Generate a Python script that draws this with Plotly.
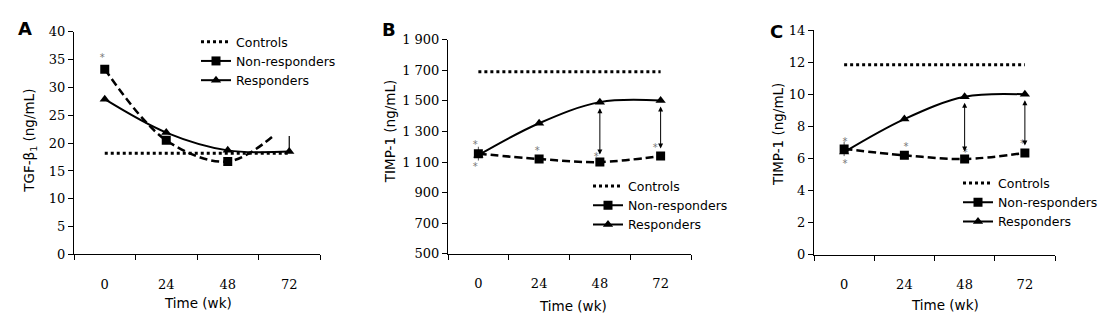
import plotly.graph_objects as go

# Time points (weeks) and the category band edges used for axis ticks
weeks = [0, 24, 48, 72]
week_labels = ["0", "24", "48", "72"]
band_edges = [-12, 12, 36, 60, 84]

# Panel A: TGF-beta1 (ng/mL)
a_controls = [18.2, 18.2]
a_resp = [27.9, 21.9, 18.7, 18.5]
a_nonresp = [33.3, 20.5, 16.7]
a_nonresp_curve_x = [0, 24, 48, 66]
a_nonresp_curve = [33.3, 20.5, 16.7, 21.4]
a_resp_err_up = [0, 0, 0, 2.8]
a_star_x = [-1]
a_star_y = [35.2]

# Panel B: TIMP-1 (ng/mL)
b_controls = [1690, 1690]
b_resp = [1145, 1354, 1492, 1502]
b_nonresp = [1155, 1120, 1100, 1140]
b_star_x = [-1.2, -1.2, 23.3, 46.6, 69.9]
b_star_y = [1208, 1063, 1166, 1131, 1187]
b_ticks = [500, 700, 900, 1100, 1300, 1500, 1700, 1900]
b_ticktext = ["500", "700", "900", "1 100", "1 300", "1 500", "1 700", "1 900"]

# Panel C: TIMP-1 (ng/mL)
c_controls = [11.85, 11.85]
c_resp = [6.4, 8.46, 9.85, 10.0]
c_nonresp = [6.6, 6.2, 5.97, 6.35]
c_star_x = [0.3, 0.3, 24.6, 48.2, 71.1]
c_star_y = [7.0, 5.62, 6.7, 6.31, 6.9]
c_ticks = [0, 2, 4, 6, 8, 10, 12, 14]

W, H = 1118, 336
SERIF = "DejaVu Serif"
SANS = "DejaVu Sans"


def px_x(p):
    return p / W


def px_y(p):
    return 1 - p / H


fig = go.Figure()

DOT = dict(color="black", width=3, dash="3px,3px")
DASH = dict(color="black", width=2.5, dash="8px,4px")
SOLID = dict(color="black", width=2)
SQUARE = dict(symbol="square", size=9, color="black")
TRI = dict(symbol="triangle-up", size=9, color="black")


def add_panel(n, controls, resp, nonresp, nonresp_x, nonresp_curve_x, nonresp_curve,
              star_x, star_y, legend_name, resp_err=None, nonresp_err0=None):
    xa = "x" if n == 1 else f"x{n}"
    ya = "y" if n == 1 else f"y{n}"
    # controls reference level
    fig.add_trace(go.Scatter(x=[weeks[0], weeks[-1]], y=controls, mode="lines",
                             line=DOT, xaxis=xa, yaxis=ya, showlegend=False,
                             hoverinfo="skip"))
    # non-responders: smooth dashed curve plus markers
    fig.add_trace(go.Scatter(x=nonresp_curve_x, y=nonresp_curve, mode="lines",
                             line=dict(DASH, shape="spline", smoothing=1.0),
                             xaxis=xa, yaxis=ya, showlegend=False))
    err0 = None
    if nonresp_err0 is not None:
        err0 = dict(type="data", array=[nonresp_err0] + [0] * (len(nonresp) - 1),
                    color="#555", thickness=1, width=0)
    fig.add_trace(go.Scatter(x=nonresp_x, y=nonresp, mode="markers", marker=SQUARE,
                             error_y=err0, xaxis=xa, yaxis=ya, showlegend=False))
    # responders: smooth solid curve plus markers
    err = None
    if resp_err is not None:
        err = dict(type="data", symmetric=False, array=resp_err,
                   arrayminus=[0] * len(resp_err), color="black", thickness=1.2, width=0)
    fig.add_trace(go.Scatter(x=weeks, y=resp, mode="lines",
                             line=dict(SOLID, shape="spline", smoothing=1.0),
                             xaxis=xa, yaxis=ya, showlegend=False))
    fig.add_trace(go.Scatter(x=weeks, y=resp, mode="markers", marker=TRI, error_y=err,
                             xaxis=xa, yaxis=ya, showlegend=False))
    # significance marks
    fig.add_trace(go.Scatter(x=star_x, y=star_y, mode="text", text=["*"] * len(star_x),
                             textfont=dict(family=SANS, size=10, color="#777"),
                             xaxis=xa, yaxis=ya, showlegend=False))
    # legend entries
    for name, line, marker in [("Controls", DOT, None),
                               ("Non-responders", SOLID, SQUARE),
                               ("Responders", SOLID, TRI)]:
        fig.add_trace(go.Scatter(x=[None], y=[None],
                                 mode="lines" if marker is None else "lines+markers",
                                 line=line, marker=marker, name=name,
                                 legend=legend_name, xaxis=xa, yaxis=ya))


add_panel(1, a_controls, a_resp, a_nonresp, weeks[:3], a_nonresp_curve_x, a_nonresp_curve,
          a_star_x, a_star_y, "legend", resp_err=a_resp_err_up)
add_panel(2, b_controls, b_resp, b_nonresp, weeks, weeks, b_nonresp,
          b_star_x, b_star_y, "legend2", nonresp_err0=45)
add_panel(3, c_controls, c_resp, c_nonresp, weeks, weeks, c_nonresp,
          c_star_x, c_star_y, "legend3", nonresp_err0=0.45)


def xaxis(dom, anchor):
    return dict(domain=dom, anchor=anchor, range=[band_edges[0], band_edges[-1]],
                tickmode="array", tickvals=weeks, ticktext=week_labels,
                ticks="outside", ticklen=18, tickcolor="rgba(0,0,0,0)",
                minor=dict(tickmode="array", tickvals=band_edges, ticks="outside",
                           ticklen=5, tickcolor="black", tickwidth=1, showgrid=False),
                showline=True, linecolor="black", linewidth=1, showgrid=False,
                zeroline=False, fixedrange=True,
                tickfont=dict(family=SERIF, size=13, color="black"))


def yaxis(dom, anchor, rng, tickvals, ticktext=None):
    return dict(domain=dom, anchor=anchor, range=rng, tickmode="array",
                tickvals=tickvals, ticktext=ticktext if ticktext else [str(v) for v in tickvals],
                ticks="outside", ticklen=5, tickcolor="black", tickwidth=1,
                showline=True, linecolor="black", linewidth=1, showgrid=False,
                zeroline=False, fixedrange=True,
                tickfont=dict(family=SERIF, size=13, color="black"))


legend_common = dict(font=dict(family=SANS, size=12.5, color="black"),
                     bgcolor="rgba(0,0,0,0)", borderwidth=0, itemwidth=30,
                     tracegroupgap=0, xanchor="left", yanchor="top")

fig.update_layout(
    width=W, height=H, margin=dict(l=0, r=0, t=0, b=0),
    paper_bgcolor="white", plot_bgcolor="white",
    xaxis=xaxis([px_x(74), px_x(320)], "y"),
    yaxis=yaxis([px_y(259), px_y(26)], "x", [0, 40], list(range(0, 41, 5))),
    xaxis2=xaxis([px_x(448), px_x(691)], "y2"),
    yaxis2=yaxis([px_y(258.3), px_y(34.3)], "x2", [500, 1900], b_ticks, b_ticktext),
    xaxis3=xaxis([px_x(814), px_x(1055)], "y3"),
    yaxis3=yaxis([px_y(259.3), px_y(24.3)], "x3", [0, 14], c_ticks),
    legend=dict(legend_common, x=px_x(196), y=px_y(21)),
    legend2=dict(legend_common, x=px_x(588), y=px_y(172)),
    legend3=dict(legend_common, x=px_x(958), y=px_y(169)),
)

# double-headed arrows linking responders and non-responders at 48 and 72 wk
for xa, ya, resp, nonresp in [("x2", "y2", b_resp, b_nonresp), ("x3", "y3", c_resp, c_nonresp)]:
    for i in (2, 3):
        fig.add_annotation(x=weeks[i], y=resp[i], ax=weeks[i], ay=nonresp[i],
                           xref=xa, yref=ya, axref=xa, ayref=ya, text="",
                           showarrow=True, arrowhead=2, arrowside="end+start",
                           arrowsize=1, arrowwidth=1, arrowcolor="black",
                           standoff=6, startstandoff=6)


def label(text, x, y, size, angle=0):
    fig.add_annotation(x=px_x(x), y=px_y(y), xref="paper", yref="paper", text=text,
                       xanchor="center", yanchor="middle", textangle=angle,
                       showarrow=False, font=dict(family=SANS, size=size, color="black"))


# panel letters
for letter, x, y in [("A", 25, 23), ("B", 389, 24), ("C", 777, 26)]:
    label(f"<b>{letter}</b>", x, y, 18)

# axis titles
for x, y in [(198, 310), (573, 313), (945, 312)]:
    label("Time (wk)", x, y, 13.5)
for text, x, y in [("TGF-β<sub>1</sub> (ng/mL)", 30, 140), ("TIMP-1 (ng/mL)", 390, 131),
                   ("TIMP-1 (ng/mL)", 778, 134)]:
    label(text, x, y, 13.5, angle=-90)

fig.write_html("out.html")
